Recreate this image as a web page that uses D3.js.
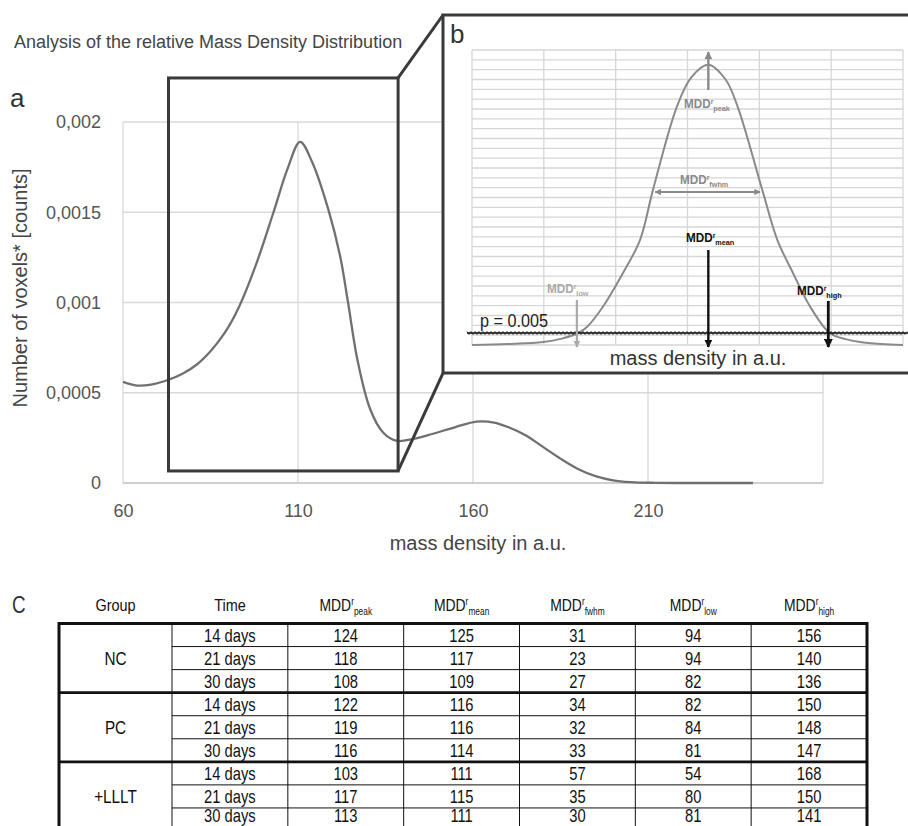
<!DOCTYPE html>
<html>
<head>
<meta charset="utf-8">
<script src="https://cdn.jsdelivr.net/npm/d3@7"></script>
<style>
  body { margin: 0; background: #fff; }
  svg { display: block; font-family: "Liberation Sans", Arial, sans-serif; }
</style>
</head>
<body>
<div id="chart"></div>
<script>
// ---- data: panel a (relative mass density distribution) ----
var massDensity = [60, 64, 68, 73, 77, 81, 85, 89, 93, 98, 103, 107, 110.6, 114, 118.6, 122, 124.3, 127, 130.6, 134.3,
  138.3, 143, 148, 155, 161, 166, 170, 175, 180, 185, 190, 195, 200, 205, 212, 225, 240];
var voxelCounts = [0.00056, 0.00054, 0.000545, 0.000572, 0.000605, 0.000655, 0.00073, 0.00083, 0.00097, 0.00121, 0.0015,
  0.00174, 0.00189, 0.00178, 0.00152, 0.00126, 0.001, 0.00068, 0.00041, 0.00028,
  0.000233, 0.000245, 0.00027, 0.00031, 0.00034, 0.000335, 0.00031, 0.000265, 0.0002, 0.000135, 0.000078, 0.000038,
  0.000015, 0.000005, 0.000001, 0, 0];
var xTicks = [60, 110, 160, 210];
var xGrid = [60, 110, 160, 210, 260];
var yTicks = [0, 0.0005, 0.001, 0.0015, 0.002];
var zoomRange = [73, 138.6];          // mass density covered by the zoom box
var zoomCounts = [0.0000667, 0.002244];

// ---- data: panel b (schematic, in grid units) ----
var schemeX = [0, 0.5, 0.99, 1.25, 1.48, 1.6, 1.82, 2.1, 2.34, 2.52, 2.85, 3.05, 3.29, 3.53, 3.7, 4.04, 4.25, 4.47, 4.71,
  4.98, 5.2, 5.4, 5.7, 6];
var schemeY = [0, 0.1, 0.3, 0.65, 1.22, 1.83, 3.87, 7.3, 10.7, 15.8, 24.2, 27.2, 28.5, 27.0, 24.2, 15.8, 10.7, 7.3, 3.87,
  1.22, 0.6, 0.3, 0.1, 0];
var pLevel = 1.22;
var mddPeakX = 3.29, mddMeanX = 3.29, mddLowX = 1.46, mddHighX = 4.96;
var fwhmRange = [2.55, 4.01];

// ---- data: panel c (table) ----
var groups = ["NC", "PC", "+LLLT"];
var times = ["14 days", "21 days", "30 days"];
var mddPeak = [124, 118, 108, 122, 119, 116, 103, 117, 113];
var mddMean = [125, 117, 109, 116, 116, 114, 111, 115, 111];
var mddFwhm = [31, 23, 27, 34, 32, 33, 57, 35, 30];
var mddLow = [94, 94, 82, 82, 84, 81, 54, 80, 81];
var mddHigh = [156, 140, 136, 150, 148, 147, 168, 150, 141];
var mddSubs = ["peak", "mean", "fwhm", "low", "high"];

var svg = d3.select("#chart").append("svg")
    .attr("width", 908)
    .attr("height", 826);

// marker defs
var defs = svg.append("defs");
function arrowMarker(id, color) {
  defs.append("marker")
      .attr("id", id)
      .attr("viewBox", "0 0 10 10")
      .attr("refX", 9).attr("refY", 5)
      .attr("markerWidth", 3.2).attr("markerHeight", 3.2)
      .attr("orient", "auto-start-reverse")
    .append("path")
      .attr("d", "M0,0 L10,5 L0,10 z")
      .attr("fill", color);
}
arrowMarker("arrGray", "#8a8a8a");
arrowMarker("arrLight", "#aaaaaa");
arrowMarker("arrBlack", "#111");

// narrow text helper (Arial Narrow look)
function narrowText(parent, x, y, anchor, sx) {
  return parent.append("g")
      .attr("transform", `translate(${x},${y}) scale(${sx},1)`)
    .append("text")
      .attr("text-anchor", anchor);
}
function addMDD(t, sub, size, supUp, subDown, subScale) {
  t.append("tspan").text("MDD");
  t.append("tspan").attr("font-size", size * 0.6).attr("dy", -supUp).text("r");
  t.append("tspan").attr("font-size", size * subScale).attr("dy", supUp + subDown).text(sub);
}

// ================= panel a =================
var xMain = d3.scaleLinear().domain([60, 260]).range([123, 823]);
var yMain = d3.scaleLinear().domain([0, 0.002]).range([483, 122]);

var pa = svg.append("g");

pa.selectAll(".hgrid").data(yTicks.filter(d => d > 0)).enter().append("line")
    .attr("x1", xMain(60)).attr("x2", xMain(260))
    .attr("y1", d => yMain(d)).attr("y2", d => yMain(d))
    .attr("stroke", "#d9d9d9").attr("stroke-width", 1.3);
pa.selectAll(".vgrid").data(xGrid).enter().append("line")
    .attr("x1", d => xMain(d)).attr("x2", d => xMain(d))
    .attr("y1", yMain(0.002)).attr("y2", yMain(0))
    .attr("stroke", "#d9d9d9").attr("stroke-width", 1.3);
pa.append("line")
    .attr("x1", xMain(60)).attr("x2", xMain(260))
    .attr("y1", yMain(0)).attr("y2", yMain(0))
    .attr("stroke", "#bfbfbf").attr("stroke-width", 1.6);

var yAxis = pa.append("g")
    .attr("transform", `translate(${xMain(60)},0)`)
    .call(d3.axisLeft(yMain).tickValues(yTicks).tickSize(0).tickPadding(22)
      .tickFormat(d => d === 0 ? "0" : String(d).replace(".", ",")));
yAxis.select(".domain").remove();
yAxis.selectAll("text").attr("font-size", 18).attr("fill", "#555")
    .attr("font-family", "'Liberation Sans', Arial, sans-serif");

var xAxis = pa.append("g")
    .attr("transform", `translate(0,${yMain(0)})`)
    .call(d3.axisBottom(xMain).tickValues(xTicks).tickSize(0).tickPadding(21));
xAxis.select(".domain").remove();
xAxis.selectAll("text").attr("font-size", 18).attr("fill", "#555")
    .attr("font-family", "'Liberation Sans', Arial, sans-serif");

var curveData = massDensity.map((d, i) => [d, voxelCounts[i]]);
var mainLine = d3.line()
    .x(d => xMain(d[0]))
    .y(d => yMain(d[1]))
    .curve(d3.curveCatmullRom.alpha(0.5));
pa.append("path")
    .datum(curveData)
    .attr("d", mainLine)
    .attr("fill", "none")
    .attr("stroke", "#707070")
    .attr("stroke-width", 2.3);

pa.append("text")
    .attr("transform", "translate(27,288) rotate(-90)")
    .attr("text-anchor", "middle")
    .attr("font-size", 20).attr("fill", "#444")
    .text("Number of voxels* [counts]");
pa.append("text")
    .attr("x", 478).attr("y", 550)
    .attr("text-anchor", "middle")
    .attr("font-size", 20).attr("fill", "#444")
    .text("mass density in a.u.");

svg.append("text")
    .attr("x", 14).attr("y", 48)
    .attr("font-size", 18).attr("fill", "#444")
    .text("Analysis of the relative Mass Density Distribution");
svg.append("text")
    .attr("x", 10).attr("y", 107)
    .attr("font-size", 26).attr("fill", "#333")
    .text("a");

// zoom box and connectors
var bx0 = xMain(zoomRange[0]), bx1 = xMain(zoomRange[1]);
var by0 = yMain(zoomCounts[1]), by1 = yMain(zoomCounts[0]);
pa.append("rect")
    .attr("x", bx0).attr("y", by0)
    .attr("width", bx1 - bx0).attr("height", by1 - by0)
    .attr("fill", "none").attr("stroke", "#3a3a3a").attr("stroke-width", 3);
pa.append("line").attr("x1", bx1).attr("y1", by0).attr("x2", 443).attr("y2", 15)
    .attr("stroke", "#3a3a3a").attr("stroke-width", 3);
pa.append("line").attr("x1", bx1).attr("y1", by1).attr("x2", 443).attr("y2", 373)
    .attr("stroke", "#3a3a3a").attr("stroke-width", 3);

// ================= panel b =================
var pb = svg.append("g");
pb.append("rect")
    .attr("x", 443).attr("y", 15).attr("width", 500).attr("height", 358)
    .attr("fill", "#fff").attr("stroke", "#3a3a3a").attr("stroke-width", 3);
pb.append("text")
    .attr("x", 450).attr("y", 43)
    .attr("font-size", 26).attr("fill", "#333")
    .text("b");

var xI = d3.scaleLinear().domain([0, 6]).range([472, 903]);
var yI = d3.scaleLinear().domain([0, 30]).range([345, 50]);

pb.selectAll(".ih").data(d3.range(0, 31)).enter().append("line")
    .attr("x1", xI(0)).attr("x2", xI(6))
    .attr("y1", d => yI(d)).attr("y2", d => yI(d))
    .attr("stroke", "#d6d6d6").attr("stroke-width", 1.3);
pb.selectAll(".iv").data(d3.range(0, 7)).enter().append("line")
    .attr("x1", d => xI(d)).attr("x2", d => xI(d))
    .attr("y1", yI(30)).attr("y2", yI(0))
    .attr("stroke", "#d6d6d6").attr("stroke-width", 1.3);

var schemeData = schemeX.map((d, i) => [d, schemeY[i]]);
pb.append("path")
    .datum(schemeData)
    .attr("d", d3.line().x(d => xI(d[0])).y(d => yI(d[1])).curve(d3.curveCatmullRom.alpha(0.5)))
    .attr("fill", "none").attr("stroke", "#8a8a8a").attr("stroke-width", 2);

// p = 0.005 line (wavy)
var py = yI(pLevel);
pb.append("line").attr("x1", 467).attr("x2", 908).attr("y1", py).attr("y2", py)
    .attr("stroke", "#111").attr("stroke-width", 1.6);
var zig = d3.range(467, 909, 2).map((x, i) => [x, py + (i % 2 ? 1.5 : -1.5)]);
pb.append("path").attr("d", d3.line()(zig))
    .attr("fill", "none").attr("stroke", "#222").attr("stroke-width", 0.9);
narrowText(pb, 480, 327, "start", 0.9)
    .attr("font-size", 18).attr("fill", "#222").text("p = 0.005");

// arrows
pb.append("line").attr("x1", xI(mddPeakX)).attr("x2", xI(mddPeakX))
    .attr("y1", 90).attr("y2", 52)
    .attr("stroke", "#8a8a8a").attr("stroke-width", 2.4).attr("marker-end", "url(#arrGray)");
pb.append("line").attr("x1", xI(fwhmRange[0])).attr("x2", xI(fwhmRange[1]))
    .attr("y1", 192).attr("y2", 192)
    .attr("stroke", "#8a8a8a").attr("stroke-width", 2)
    .attr("marker-start", "url(#arrGray)").attr("marker-end", "url(#arrGray)");
pb.append("line").attr("x1", xI(mddMeanX)).attr("x2", xI(mddMeanX))
    .attr("y1", 250).attr("y2", 347)
    .attr("stroke", "#111").attr("stroke-width", 2.4).attr("marker-end", "url(#arrBlack)");
pb.append("line").attr("x1", xI(mddLowX)).attr("x2", xI(mddLowX))
    .attr("y1", 300).attr("y2", 347)
    .attr("stroke", "#aaa").attr("stroke-width", 2.2).attr("marker-end", "url(#arrLight)");
pb.append("line").attr("x1", xI(mddHighX)).attr("x2", xI(mddHighX))
    .attr("y1", 301).attr("y2", 347)
    .attr("stroke", "#111").attr("stroke-width", 2.8).attr("marker-end", "url(#arrBlack)");

// labels
var lbls = [
  {sub: "peak", x: 684, y: 108, c: "#8a8a8a"},
  {sub: "fwhm", x: 680, y: 184, c: "#8a8a8a"},
  {sub: "mean", x: 686, y: 242, c: "#111"},
  {sub: "low", x: 547, y: 293, c: "#aaaaaa"},
  {sub: "high", x: 797, y: 295, c: "#111"}
];
lbls.forEach(function(l) {
  var t = narrowText(pb, l.x, l.y, "start", 0.9)
      .attr("font-size", 13).attr("font-weight", "bold").attr("fill", l.c);
  addMDD(t, l.sub, 13, 4.5, 3, 0.62);
});

pb.append("text")
    .attr("x", 698).attr("y", 365)
    .attr("text-anchor", "middle")
    .attr("font-size", 20).attr("fill", "#333")
    .text("mass density in a.u.");

// ================= panel c (table) =================
var pc = svg.append("g");
var colX = d3.scaleBand().domain(d3.range(6)).range([172, 867]);
var rowY = d3.scaleBand().domain(d3.range(9)).range([623.5, 831]);
var groupX = [59, 172];
var tableCols = [mddPeak, mddMean, mddFwhm, mddLow, mddHigh];

narrowText(pc, 12, 613, "start", 0.82).attr("font-size", 23).attr("fill", "#333").text("C");

// header
narrowText(pc, (groupX[0] + groupX[1]) / 2, 611, "middle", 0.85)
    .attr("font-size", 17).attr("fill", "#111").text("Group");
narrowText(pc, colX(0) + colX.bandwidth() / 2, 611, "middle", 0.85)
    .attr("font-size", 17).attr("fill", "#111").text("Time");
mddSubs.forEach(function(s, i) {
  var t = narrowText(pc, colX(i + 1) + colX.bandwidth() / 2, 611, "middle", 0.82)
      .attr("font-size", 17).attr("fill", "#111");
  addMDD(t, s, 17, 6, 3.5, 0.6);
});

// cell text (last row sits at the picture's lower edge)
d3.range(9).forEach(function(ri) {
  var base = Math.min(rowY(ri) + rowY.bandwidth() - 5, 821.5);
  narrowText(pc, colX(0) + colX.bandwidth() / 2, base, "middle", 0.82)
      .attr("font-size", 18).attr("fill", "#111").text(times[ri % 3]);
  tableCols.forEach(function(col, ci) {
    narrowText(pc, colX(ci + 1) + colX.bandwidth() / 2, base, "middle", 0.82)
        .attr("font-size", 18).attr("fill", "#111").text(col[ri]);
  });
});
groups.forEach(function(g, gi) {
  var yc = (rowY(gi * 3) + rowY(gi * 3 + 2) + rowY.bandwidth()) / 2;
  narrowText(pc, (groupX[0] + groupX[1]) / 2, yc + 7, "middle", 0.85)
      .attr("font-size", 18).attr("fill", "#111").text(g);
});

// grid lines
d3.range(1, 9).forEach(function(r) {
  var thick = r % 3 === 0;
  pc.append("line")
      .attr("x1", thick ? groupX[0] : colX(0)).attr("x2", 867)
      .attr("y1", rowY(r)).attr("y2", rowY(r))
      .attr("stroke", "#111").attr("stroke-width", thick ? 2.6 : 1);
});
d3.range(0, 6).forEach(function(c) {
  pc.append("line")
      .attr("x1", colX(c)).attr("x2", colX(c))
      .attr("y1", rowY(0)).attr("y2", 840)
      .attr("stroke", "#111").attr("stroke-width", 1);
});
pc.append("rect")
    .attr("x", groupX[0]).attr("y", rowY(0))
    .attr("width", 867 - groupX[0]).attr("height", 240)
    .attr("fill", "none").attr("stroke", "#111").attr("stroke-width", 3);
</script>
</body>
</html>
